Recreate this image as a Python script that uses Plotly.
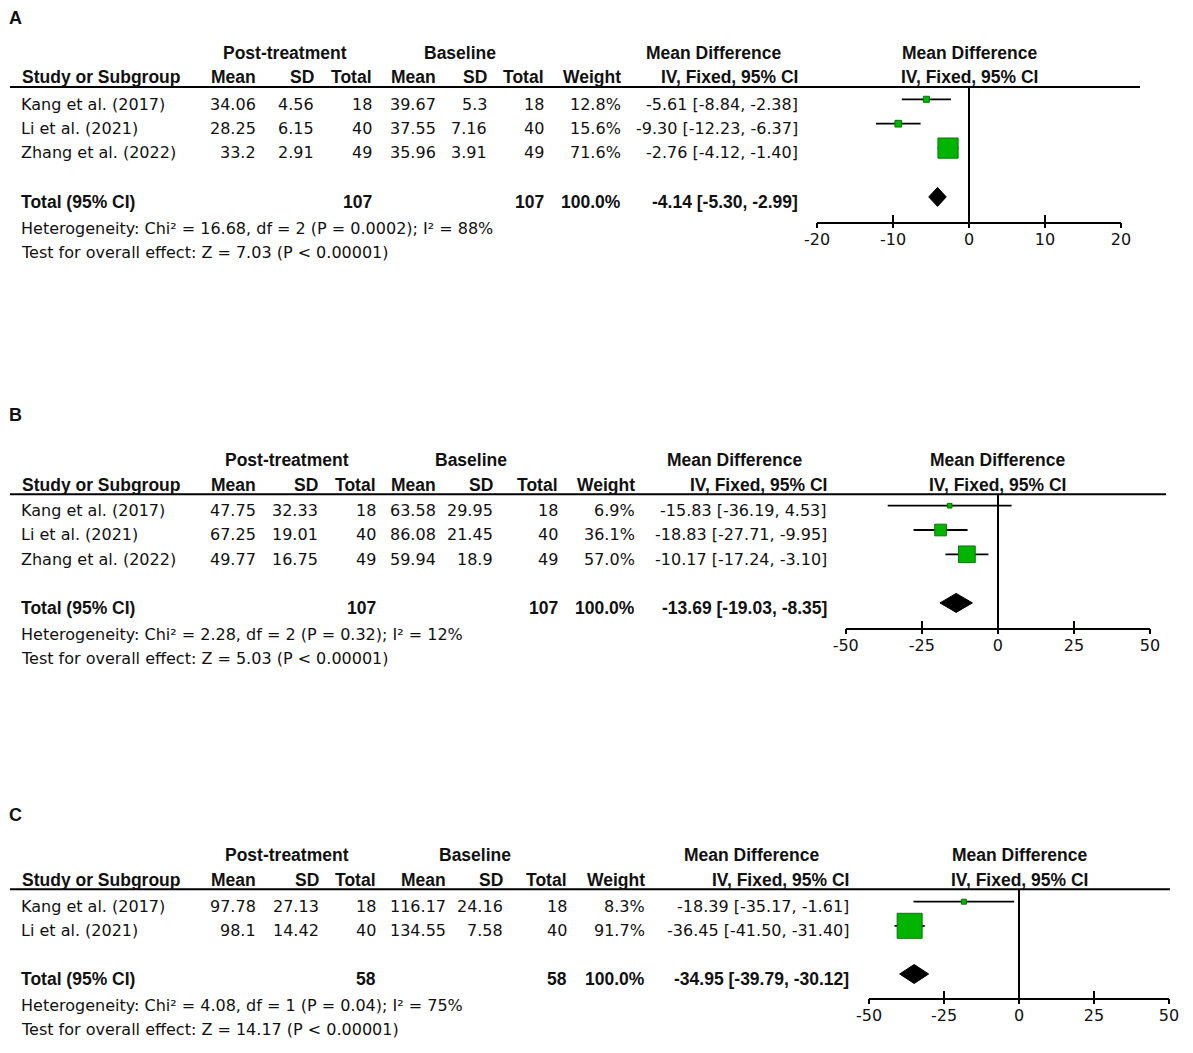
import plotly.graph_objects as go

W, H = 1193, 1053
FONT = "DejaVu Sans"
BFONT = "Liberation Sans"
TXT = "#111111"

# ---------------- DATA ----------------
# Panel A
studies_A = ["Kang et al. (2017)", "Li et al. (2021)", "Zhang et al. (2022)"]
post_mean_A = [34.06, 28.25, 33.2]
post_sd_A = [4.56, 6.15, 2.91]
post_n_A = [18, 40, 49]
base_mean_A = [39.67, 37.55, 35.96]
base_sd_A = [5.3, 7.16, 3.91]
base_n_A = [18, 40, 49]
weight_A = [12.8, 15.6, 71.6]
md_A = [-5.61, -9.30, -2.76]
lo_A = [-8.84, -12.23, -4.12]
hi_A = [-2.38, -6.37, -1.40]
total_n_A = [107, 107]
total_ci_A = [-4.14, -5.30, -2.99]
het_A = "Heterogeneity: Chi² = 16.68, df = 2 (P = 0.0002); I² = 88%"
test_A = "Test for overall effect: Z = 7.03 (P < 0.00001)"
ticks_A = [-20, -10, 0, 10, 20]

# Panel B
studies_B = ["Kang et al. (2017)", "Li et al. (2021)", "Zhang et al. (2022)"]
post_mean_B = [47.75, 67.25, 49.77]
post_sd_B = [32.33, 19.01, 16.75]
post_n_B = [18, 40, 49]
base_mean_B = [63.58, 86.08, 59.94]
base_sd_B = [29.95, 21.45, 18.9]
base_n_B = [18, 40, 49]
weight_B = [6.9, 36.1, 57.0]
md_B = [-15.83, -18.83, -10.17]
lo_B = [-36.19, -27.71, -17.24]
hi_B = [4.53, -9.95, -3.10]
total_n_B = [107, 107]
total_ci_B = [-13.69, -19.03, -8.35]
het_B = "Heterogeneity: Chi² = 2.28, df = 2 (P = 0.32); I² = 12%"
test_B = "Test for overall effect: Z = 5.03 (P < 0.00001)"
ticks_B = [-50, -25, 0, 25, 50]

# Panel C
studies_C = ["Kang et al. (2017)", "Li et al. (2021)"]
post_mean_C = [97.78, 98.1]
post_sd_C = [27.13, 14.42]
post_n_C = [18, 40]
base_mean_C = [116.17, 134.55]
base_sd_C = [24.16, 7.58]
base_n_C = [18, 40]
weight_C = [8.3, 91.7]
md_C = [-18.39, -36.45]
lo_C = [-35.17, -41.50]
hi_C = [-1.61, -31.40]
total_n_C = [58, 58]
total_ci_C = [-34.95, -39.79, -30.12]
het_C = "Heterogeneity: Chi² = 4.08, df = 1 (P = 0.04); I² = 75%"
test_C = "Test for overall effect: Z = 14.17 (P < 0.00001)"
ticks_C = [-50, -25, 0, 25, 50]

col_headers = ["Mean", "SD", "Total", "Mean", "SD", "Total", "Weight", "IV, Fixed, 95% CI"]
group_headers = ["Post-treatment", "Baseline", "Mean Difference"]

# ---------------- LAYOUT GEOMETRY (pixels) ----------------
geo = {
    "A": dict(label_y=18, line_y=87, line_x1=1140, row0=99.3, step=24.4, axis_y=221.7,
              ax_x0=817, ax_x1=1121, cols=[257.3, 315, 373, 436.7, 487.7, 545, 621.7, 799],
              grp=[284.5, 460, 713]),
    "B": dict(label_y=415, line_y=494.3, line_x1=1166, row0=505.7, step=24.3, axis_y=628,
              ax_x0=845.7, ax_x1=1150, cols=[257, 319, 377, 437, 494, 559, 636, 828],
              grp=[287, 471, 734]),
    "C": dict(label_y=815, line_y=889.3, line_x1=1170, row0=901.7, step=24.1, axis_y=998,
              ax_x0=869, ax_x1=1169, cols=[257, 320, 377, 447, 504, 568, 646, 850],
              grp=[287, 475, 751]),
}

panels = [
    ("A", studies_A, post_mean_A, post_sd_A, post_n_A, base_mean_A, base_sd_A, base_n_A,
     weight_A, md_A, lo_A, hi_A, total_n_A, total_ci_A, het_A, test_A, ticks_A),
    ("B", studies_B, post_mean_B, post_sd_B, post_n_B, base_mean_B, base_sd_B, base_n_B,
     weight_B, md_B, lo_B, hi_B, total_n_B, total_ci_B, het_B, test_B, ticks_B),
    ("C", studies_C, post_mean_C, post_sd_C, post_n_C, base_mean_C, base_sd_C, base_n_C,
     weight_C, md_C, lo_C, hi_C, total_n_C, total_ci_C, het_C, test_C, ticks_C),
]

GREEN = "#00B400"
GREEN_LINE = "#067806"

fig = go.Figure()
annotations = []
shapes = []
layout_axes = {}


def txt(x, y, s, anchor="right", bold=False, size=None):
    if bold:
        s = "<b>" + s + "</b>"
        fam = BFONT
        size = size or 17.5
    else:
        fam = FONT
        size = size or 16
    annotations.append(dict(
        x=x / W, y=1 - y / H, xref="paper", yref="paper", text=s, showarrow=False,
        xanchor=anchor, yanchor="middle", borderpad=0,
        font=dict(family=fam, size=size, color=TXT)))


def fmt_ci(m, l, h):
    return f"{m:.2f} [{l:.2f}, {h:.2f}]"


TEXT_OFF = 4.7

for k, p in enumerate(panels, start=1):
    (lab, studies, pm, psd, pn, bm, bsd, bn, wt, md, lo, hi, tn, tci, het, test, ticks) = p
    g = geo[lab]
    xa = "x" if k == 1 else f"x{k}"
    ya = "y" if k == 1 else f"y{k}"
    xo = f"x{k + 3}"

    def row_px(i):
        return g["row0"] + i * g["step"]

    n = len(studies)
    total_idx = n + 1

    # panel label
    txt(8, g["label_y"], lab, anchor="left", bold=True, size=18)

    # group headers
    gy = g["line_y"] - 34
    for gx, gh in zip(g["grp"], group_headers):
        txt(gx, gy, gh, anchor="center", bold=True)
    xc = (g["ax_x0"] + g["ax_x1"]) / 2
    txt(xc, gy, "Mean Difference", anchor="center", bold=True)

    # column headers
    cy = g["line_y"] - 9.5
    txt(21, cy, "Study or Subgroup", anchor="left", bold=True)
    for cx, ch in zip(g["cols"], col_headers):
        txt(cx, cy, ch, anchor="right", bold=True)
    txt(xc, cy, "IV, Fixed, 95% CI", anchor="center", bold=True)

    # header rule
    shapes.append(dict(type="line", xref="paper", yref="paper",
                       x0=10 / W, x1=g["line_x1"] / W,
                       y0=1 - g["line_y"] / H, y1=1 - g["line_y"] / H,
                       line=dict(color="black", width=2)))

    # study rows
    for i in range(n):
        y = row_px(i) + TEXT_OFF
        txt(20, y, studies[i], anchor="left")
        vals = [str(pm[i]), str(psd[i]), str(pn[i]), str(bm[i]), str(bsd[i]), str(bn[i]),
                f"{wt[i]:.1f}%", fmt_ci(md[i], lo[i], hi[i])]
        for cx, v in zip(g["cols"], vals):
            txt(cx, y, v, anchor="right")

    # total row
    ty = row_px(total_idx) + TEXT_OFF
    txt(20, ty, "Total (95% CI)", anchor="left", bold=True)
    txt(g["cols"][2], ty, str(tn[0]), anchor="right", bold=True)
    txt(g["cols"][5], ty, str(tn[1]), anchor="right", bold=True)
    txt(g["cols"][6], ty, f"{sum(wt):.1f}%", anchor="right", bold=True)
    txt(g["cols"][7], ty, fmt_ci(*tci), anchor="right", bold=True)
    txt(20, ty + 27, het, anchor="left")
    txt(20, ty + 51, test, anchor="left")

    # ---- forest plot traces ----
    ys = list(range(n))
    cx_, cy_ = [], []
    for i in range(n):
        cx_ += [lo[i], hi[i], None]
        cy_ += [ys[i], ys[i], None]
    fig.add_trace(go.Scatter(x=cx_, y=cy_, mode="lines", xaxis=xa, yaxis=ya,
                             line=dict(color="black", width=1.8), showlegend=False,
                             hoverinfo="skip"))
    fig.add_trace(go.Scatter(x=md, y=ys, mode="markers", xaxis=xa, yaxis=ya,
                             marker=dict(symbol="square", size=[3 + 24 * w / 100 for w in wt],
                                         color=GREEN, opacity=1,
                                         line=dict(color=GREEN_LINE, width=1)),
                             showlegend=False, hoverinfo="skip"))
    hh = 9.5 / g["step"]
    tm, tl, th = tci
    fig.add_trace(go.Scatter(x=[tl, tm, th, tm, tl],
                             y=[total_idx, total_idx - hh, total_idx, total_idx + hh, total_idx],
                             mode="lines", fill="toself", fillcolor="black",
                             line=dict(color="black", width=1), xaxis=xa, yaxis=ya,
                             showlegend=False, hoverinfo="skip"))
    # dummy trace for overlay tick axis
    fig.add_trace(go.Scatter(x=[None], y=[None], xaxis=xo, yaxis=ya, showlegend=False,
                             hoverinfo="skip"))

    y_top = (g["line_y"] - g["row0"]) / g["step"]
    y_bot = (g["axis_y"] - g["row0"]) / g["step"]
    dom_x = [g["ax_x0"] / W, g["ax_x1"] / W]
    rng = [ticks[0], ticks[-1]]
    layout_axes["xaxis" if k == 1 else f"xaxis{k}"] = dict(
        domain=dom_x, range=rng, anchor=ya, tickvals=ticks,
        ticktext=[str(t) for t in ticks], automargin=False,
        showline=True, linecolor="black", linewidth=2,
        ticks="inside", ticklen=7, tickwidth=2, tickcolor="black",
        ticklabelstandoff=2,
        zeroline=True, zerolinecolor="black", zerolinewidth=1.5,
        showgrid=False, fixedrange=True,
        tickfont=dict(family=FONT, size=16, color=TXT))
    layout_axes[f"xaxis{k + 3}"] = dict(
        domain=dom_x, range=rng, anchor=ya, overlaying=xa, tickvals=ticks,
        automargin=False,
        showline=False, ticks="outside", ticklen=5, tickwidth=2, tickcolor="black",
        showticklabels=False, zeroline=False, showgrid=False, fixedrange=True)
    layout_axes["yaxis" if k == 1 else f"yaxis{k}"] = dict(
        domain=[1 - g["axis_y"] / H, 1 - g["line_y"] / H], range=[y_bot, y_top],
        visible=False, fixedrange=True, anchor=xa, automargin=False)

fig.update_layout(
    template="none",
    width=W, height=H, margin=dict(l=0, r=0, t=0, b=0, pad=0, autoexpand=False),
    paper_bgcolor="white", plot_bgcolor="white",
    font=dict(family=FONT, size=16, color=TXT),
    annotations=annotations, shapes=shapes, showlegend=False,
    **layout_axes)

fig.write_html("out.html", config={"displayModeBar": False},
               post_script="document.body.style.margin='0';")
